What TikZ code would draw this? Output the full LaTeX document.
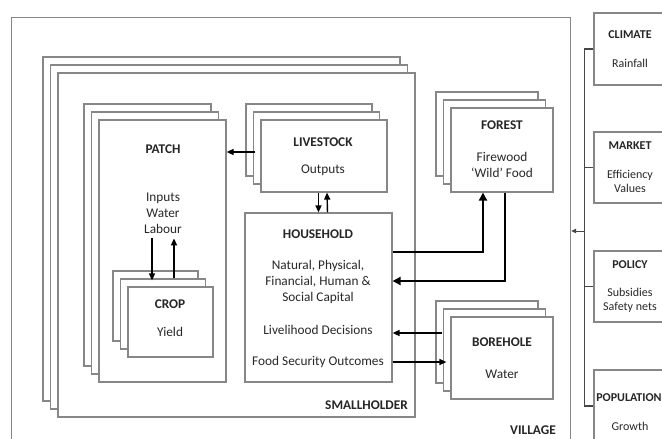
\documentclass[tikz,border=0pt]{standalone}
\usepackage{fontspec}
\setmainfont{Carlito}
\usetikzlibrary{arrows.meta, positioning, shadows}
\definecolor{boxgrey}{RGB}{135,135,135}
\definecolor{inkgrey}{RGB}{40,40,40}
\definecolor{busgrey}{RGB}{70,70,70}

\begin{document}
\begin{tikzpicture}[x=1pt, y=-1pt,
  box/.style={draw=boxgrey, fill=white, line width=1.2pt, inner sep=0pt},
  stackbox/.style={box,
    copy shadow={shadow xshift=-15pt, shadow yshift=16pt, draw=boxgrey, fill=white, line width=1.2pt},
    copy shadow={shadow xshift=-7.5pt, shadow yshift=8pt, draw=boxgrey, fill=white, line width=1.2pt}},
  sidebox/.style={box, minimum width=72pt},
  ttl/.style={font=\fontsize{13.3}{16}\selectfont\bfseries, text=black!85},
  txt/.style={font=\fontsize{13.3}{16}\selectfont, text=inkgrey, align=center},
  sidettl/.style={font=\fontsize{12}{14}\selectfont\bfseries, text=black!85},
  sidetxt/.style={font=\fontsize{12}{14}\selectfont, text=inkgrey, align=center},
  arr/.style={-{Triangle[length=7pt,width=6pt]}, line width=1.4pt},
  fatarr/.style={-{Triangle[length=8pt,width=8pt]}, line width=2.4pt}
]
  \useasboundingbox (0,0) rectangle (662,439);

  % village and smallholder frames
  \node[box, minimum width=559pt, minimum height=440pt, anchor=north west] (village) at (11,17) {};
  \node[stackbox, minimum width=357pt, minimum height=344pt] (smallholder) at (236.5,245) {};
  \node[ttl] (smallttl) at (366.5,405) {SMALLHOLDER};
  \node[ttl] (villagettl) at (533,430) {VILLAGE};

  % patch and crop
  \node[stackbox, minimum width=127pt, minimum height=262pt] (patch) at (162.5,251) {};
  \node[ttl] (patchttl) at (163,149) {PATCH};
  \node[txt] (patchtxt) at (163,213) {Inputs\\Water\\Labour};
  \node[stackbox, minimum width=85pt, minimum height=70pt] (crop) at (170.5,322) {};
  \node[ttl] (cropttl) at (170,304) {CROP};
  \node[txt] (croptxt) at (170,332) {Yield};

  % livestock and household
  \node[stackbox, minimum width=126pt, minimum height=72pt] (liv) at (324,156) {};
  \node[ttl] (livttl) at (323,142) {LIVESTOCK};
  \node[txt] (livtxt) at (323,170) {Outputs};
  \node[box, minimum width=147pt, minimum height=169pt] (hh) at (318.5,297.5) {};
  \node[ttl] (hhttl) at (318,234) {HOUSEHOLD};
  \node[txt] (hhcap) at (318,282) {Natural, Physical,\\Financial, Human \&\\Social Capital};
  \node[txt] (hhdec) at (318,330) {Livelihood Decisions};
  \node[txt] (hhfood) at (318,362) {Food Security Outcomes};

  % village resources
  \node[stackbox, minimum width=102pt, minimum height=84pt] (forest) at (502,150) {};
  \node[ttl] (forestttl) at (502,125) {FOREST};
  \node[txt] (foresttxt) at (502,165) {Firewood\\‘Wild’ Food};
  \node[stackbox, minimum width=102pt, minimum height=82pt] (borehole) at (502,358) {};
  \node[ttl] (boreholettl) at (502,342) {BOREHOLE};
  \node[txt] (boreholetxt) at (502,374) {Water};

  % outside drivers
  \node[sidebox, minimum height=72pt] (climate) at (630,49) {};
  \node[sidettl] at (630,35) {CLIMATE};
  \node[sidetxt] at (630,63) {Rainfall};
  \node[sidebox, minimum height=71pt] (market) at (630,167.5) {};
  \node[sidettl] at (630,146) {MARKET};
  \node[sidetxt] at (630,181) {Efficiency\\Values};
  \node[sidebox, minimum height=71pt] (policy) at (630,286.5) {};
  \node[sidettl] at (630,265) {POLICY};
  \node[sidetxt] at (630,300) {Subsidies\\Safety nets};
  \node[sidebox, minimum height=72pt] (population) at (630,406) {};
  \node[sidettl] at (629,398) {POPULATION};
  \node[sidetxt] at (630,426) {Growth};

  \draw[busgrey, line width=1.5pt] (climate.west) -- ++(-9,0) |- (population.west);
  \draw[busgrey, line width=1.5pt] (market.west) -- ++(-9,0);
  \draw[busgrey, line width=1.5pt] (policy.west) -- ++(-9,0);
  \coordinate (bushook) at (585,231);
  \draw[busgrey, -{Triangle[length=5pt,width=4.5pt]}, line width=1pt] (bushook) -- (bushook -| village.east);

  % flows
  \coordinate (livout) at ([shift={(-5,-4)}]liv.west);
  \draw[arr] (livout) -- (livout -| patch.east);
  \draw[arr] (liv.south -| hh.north) -- (hh.north);
  \draw[arr] ([shift={(9,0)}]hh.north) -- ([shift={(3,0)}]liv.south);
  \draw[arr] ([shift={(-18.5,-48)}]crop.north) -- ([shift={(-18.5,-6)}]crop.north);
  \draw[arr] ([shift={(3.5,-8)}]crop.north) -- ([shift={(3.5,-48)}]crop.north);
  \draw[fatarr] ([shift={(0,-45.5)}]hh.east) -| ([shift={(-19,0)}]forest.south);
  \draw[fatarr] ([shift={(3,0)}]forest.south) |- ([shift={(0,-16.5)}]hh.east);
  \draw[arr] ([shift={(-8,-25)}]borehole.west) -- ([shift={(0,35.5)}]hh.east);
  \draw[arr] ([shift={(0,64.5)}]hh.east) -- ([shift={(-4,4)}]borehole.west);
\end{tikzpicture}
\end{document}
